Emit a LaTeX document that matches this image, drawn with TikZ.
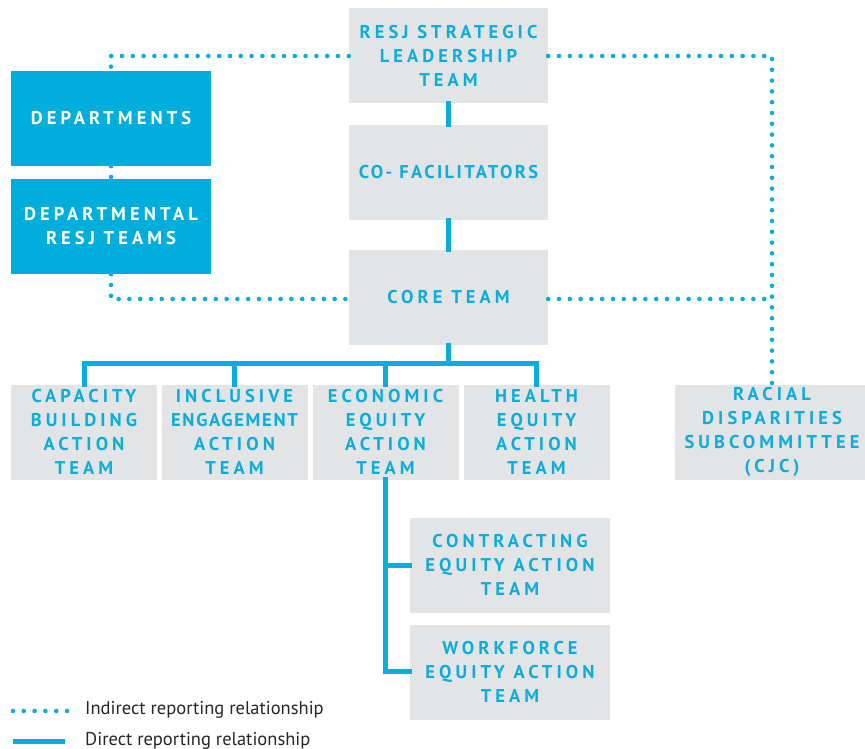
\documentclass[tikz,border=0pt]{standalone}
\usepackage{fontspec}
\setmainfont{PT Sans}
\newfontfamily\capfont{PT Sans}[LetterSpace=22]
\definecolor{cyanT}{HTML}{0AADDC}
\definecolor{boxgray}{HTML}{E3E4E6}
\definecolor{deptblue}{HTML}{00AEDB}
\newcommand{\tightlet}[1]{{\addfontfeatures{LetterSpace=9}#1}}
\newcommand{\midlet}[1]{{\addfontfeatures{LetterSpace=13}#1}}
\tikzset{
  gbox/.style={fill=boxgray, text=cyanT, minimum width=199pt, minimum height=95pt,
    align=center, inner sep=0pt, font=\capfont\bfseries\fontsize{18.5}{24}\selectfont},
  bbox/.style={gbox, fill=deptblue, text=white},
  rbox/.style={gbox, minimum width=146pt},
  indirect/.style={draw=cyanT, line width=4.6pt, line cap=round, dash pattern=on 0pt off 10.8pt},
  direct/.style={draw=cyanT, line width=5pt, line cap=rect},
  legend/.style={font=\fontsize{18.5}{22}\selectfont, text=black!85, anchor=west, inner sep=0pt}
}
\begin{document}
\begin{tikzpicture}[x=1pt,y=-1pt]
\useasboundingbox (0,0) rectangle (865,749);
% top column
\node[gbox] (slt) at (448.5,56) {RESJ STRATEGIC\\LEADERSHIP\\TEAM};
\node[gbox] (cofac) at (448.5,172.5) {\midlet{CO- FACILITATORS}};
\node[gbox] (core) at (448.5,297.5) {CORE TEAM};
% departments
\node[bbox, minimum width=200pt] (dept) at (111,118.5) {DEPARTMENTS};
\node[bbox, minimum width=200pt] (dteam) at (111,226.5) {DEPARTMENTAL\\RESJ TEAMS};
% row
\node[rbox] (cap) at (84,432) {CAPACITY\\BUILDING\\ACTION\\TEAM};
\node[rbox] (incl) at (234.5,432) {INCLUSIVE\\\tightlet{ENGAGEMENT}\\ACTION\\TEAM};
\node[rbox] (econ) at (385.5,432) {ECONOMIC\\EQUITY\\ACTION\\TEAM};
\node[rbox] (health) at (536.5,432) {HEALTH\\EQUITY\\ACTION\\TEAM};
\node[gbox, minimum width=194pt] (racial) at (772,432) {RACIAL\\DISPARITIES\\SUBCOMMITTEE\\(CJC)};
% sub teams
\node[gbox, minimum width=200pt] (contract) at (510,565) {CONTRACTING\\EQUITY ACTION\\TEAM};
\node[gbox, minimum width=200pt] (work) at (510,672) {WORKFORCE\\EQUITY ACTION\\TEAM};
% direct lines
\draw[direct] (slt.south) -- (cofac.north);
\draw[direct] (cofac.south) -- (core.north);
\draw[direct] (core.south) -- ++(0,17);
\draw[direct] (cap.north) -- ++(0,-21) -| (health.north);
\draw[direct] (incl.north) -- ++(0,-21);
\draw[direct] (econ.north) -- ++(0,-21);
\draw[direct] (econ.south) |- (contract.west);
\draw[direct] (econ.south) |- ([yshift=1pt]work.west);
% indirect lines
\draw[indirect] (slt.west) -| (dept.north);
\draw[indirect] (slt.east) -| (racial.north);
\draw[indirect] (dept.south) -- (dteam.north);
\draw[indirect] (dteam.south) |- ([yshift=-1.5pt]core.west);
\draw[indirect] ([yshift=-1.5pt]core.east) -- ([yshift=-1.5pt]core.east -| racial.north);
% legend
\coordinate (i1) at (13,711);
\coordinate (i2) at (67,711);
\coordinate (d1) at (13,741);
\coordinate (d2) at (65,741);
\draw[indirect] (i1) -- (i2);
\draw[direct, line cap=butt] (d1) -- (d2);
\node[legend] (itext) at (85,710) {Indirect reporting relationship};
\node[legend] (dtext) at (85,741) {Direct reporting relationship};
\end{tikzpicture}
\end{document}
